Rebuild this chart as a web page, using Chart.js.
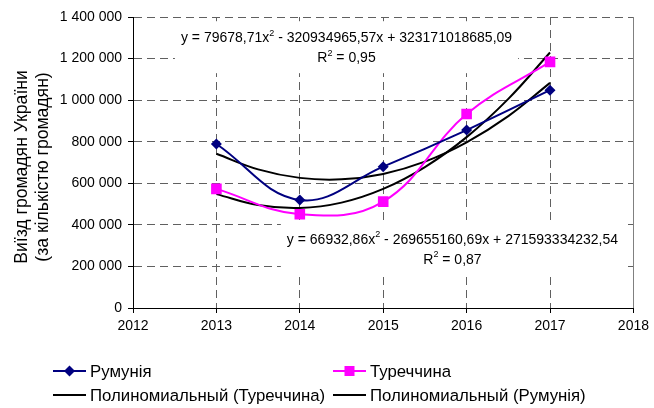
<!DOCTYPE html>
<html lang="uk">
<head>
<meta charset="UTF-8">
<title>Виїзд громадян України</title>
<script src="https://cdn.jsdelivr.net/npm/chart.js"></script>
<style>
  html, body { margin: 0; padding: 0; background: #fff; }
  #wrap { width: 654px; height: 408px; }
</style>
</head>
<body>
<div id="wrap"><canvas id="chart" width="654" height="408"></canvas></div>
<script>
  // data
  const years = [2013, 2014, 2015, 2016, 2017];
  const romania = [789000, 520000, 680000, 856000, 1048000];
  const turkey = [573000, 451000, 512000, 933000, 1184000];

  // trend curves, read every half year
  const trendYears = [2013, 2013.5, 2014, 2014.5, 2015, 2015.5, 2016, 2016.5, 2017];
  const turkeyTrend = [548000, 495000, 481000, 507000, 573000, 678000, 822000, 1006000, 1229000];
  const romaniaTrend = [742000, 667000, 626000, 619000, 645000, 704000, 797000, 923000, 1083000];

  const xMin = 2012, xMax = 2018;
  const yMax = 1400000, yStep = 200000;

  const seriesNames = ['Румунія', 'Туреччина', 'Полиномиальный (Туреччина)', 'Полиномиальный (Румунія)'];
  const axisTitle = ['Виїзд громадян України', '(за кількістю громадян)'];

  const FONT = '"Liberation Sans", Arial, sans-serif';
  const NAVY = '#000080', PINK = '#FF00FF';

  const pairs = (xs, ys) => xs.map((x, i) => ({ x: x, y: ys[i] }));
  const spaced = v => String(v).replace(/\B(?=(\d{3})+(?!\d))/g, ' ');

  // equation boxes, placed in data units
  const trendLabels = [
    {
      x: 2014.56, y: [1298000, 1202000],
      lines: [
        [{ t: 'y = 79678,71x' }, { t: '2', sup: true }, { t: ' - 320934965,57x + 323171018685,09' }],
        [{ t: 'R' }, { t: '2', sup: true }, { t: ' = 0,95' }]
      ]
    },
    {
      x: 2015.83, y: [328000, 232000],
      lines: [
        [{ t: 'y = 66932,86x' }, { t: '2', sup: true }, { t: ' - 269655160,69x + 271593334232,54' }],
        [{ t: 'R' }, { t: '2', sup: true }, { t: ' = 0,87' }]
      ]
    }
  ];

  function partFont(p) { return (p.sup ? '9px ' : '14px ') + FONT; }

  function richWidth(ctx, parts) {
    let w = 0;
    parts.forEach(p => { ctx.font = partFont(p); w += ctx.measureText(p.t).width; });
    return w;
  }

  function drawRich(ctx, parts, cx, cy) {
    let x = cx - richWidth(ctx, parts) / 2;
    parts.forEach(p => {
      ctx.font = partFont(p);
      ctx.fillText(p.t, x, p.sup ? cy - 5 : cy);
      x += ctx.measureText(p.t).width;
    });
  }

  const equationPlugin = {
    id: 'equations',
    beforeDatasetsDraw(chart) {
      const ctx = chart.ctx, xs = chart.scales.x, ys = chart.scales.y;
      ctx.save();
      ctx.textBaseline = 'middle';
      ctx.textAlign = 'left';
      trendLabels.forEach(lb => {
        const cx = xs.getPixelForValue(lb.x);
        const c1 = ys.getPixelForValue(lb.y[0]);
        const c2 = ys.getPixelForValue(lb.y[1]);
        const w = Math.max(...lb.lines.map(l => richWidth(ctx, l)));
        ctx.fillStyle = '#fff';
        ctx.fillRect(cx - w / 2 - 6, c1 - 17, w + 12, c2 - c1 + 32);
        ctx.fillStyle = '#000';
        drawRich(ctx, lb.lines[0], cx, c1);
        drawRich(ctx, lb.lines[1], cx, c2);
      });
      // right edge of the plot area
      const a = chart.chartArea;
      ctx.strokeStyle = '#808080';
      ctx.lineWidth = 1;
      ctx.beginPath();
      ctx.moveTo(Math.round(a.right) + 0.5, a.top);
      ctx.lineTo(Math.round(a.right) + 0.5, a.bottom);
      ctx.stroke();
      ctx.restore();
    }
  };

  function diamond(ctx, x, y, r) {
    ctx.beginPath();
    ctx.moveTo(x - r, y); ctx.lineTo(x, y - r); ctx.lineTo(x + r, y); ctx.lineTo(x, y + r);
    ctx.closePath();
    ctx.fill();
  }

  const sidePlugin = {
    id: 'sideTexts',
    afterDraw(chart) {
      const ctx = chart.ctx;
      ctx.save();
      ctx.fillStyle = '#000';
      ctx.font = '17.6px ' + FONT;
      ctx.textAlign = 'center';
      ctx.textBaseline = 'alphabetic';
      // y axis title, two lines
      [[27, axisTitle[0]], [48, axisTitle[1]]].forEach(([bx, txt]) => {
        ctx.save();
        ctx.translate(bx, 167);
        ctx.rotate(-Math.PI / 2);
        ctx.fillText(txt, 0, 0);
        ctx.restore();
      });

      // legend
      const rows = [371, 395];
      const cols = [53, 333];
      const items = [
        { col: 0, row: 0, color: NAVY, mark: 'diamond', name: seriesNames[0] },
        { col: 1, row: 0, color: PINK, mark: 'square', name: seriesNames[1] },
        { col: 0, row: 1, color: '#000', mark: null, name: seriesNames[2] },
        { col: 1, row: 1, color: '#000', mark: null, name: seriesNames[3] }
      ];
      ctx.font = '16.8px ' + FONT;
      ctx.textAlign = 'left';
      ctx.textBaseline = 'middle';
      items.forEach(it => {
        const x0 = cols[it.col], y = rows[it.row];
        ctx.strokeStyle = it.color;
        ctx.fillStyle = it.color;
        ctx.lineWidth = 2;
        ctx.beginPath();
        ctx.moveTo(x0, y); ctx.lineTo(x0 + 33, y);
        ctx.stroke();
        if (it.mark === 'diamond') diamond(ctx, x0 + 16.5, y, 5.5);
        if (it.mark === 'square') ctx.fillRect(x0 + 16.5 - 5, y - 5, 10, 10);
        ctx.fillStyle = '#000';
        ctx.fillText(it.name, x0 + 37, y + 1);
      });
      ctx.restore();
    }
  };

  new Chart(document.getElementById('chart'), {
    type: 'line',
    data: {
      datasets: [
        {
          label: seriesNames[0],
          data: pairs(years, romania),
          borderColor: NAVY, backgroundColor: NAVY,
          borderWidth: 2, tension: 0.4,
          pointStyle: 'rectRot', pointRadius: 5.5, pointBorderWidth: 0
        },
        {
          label: seriesNames[1],
          data: pairs(years, turkey),
          borderColor: PINK, backgroundColor: PINK,
          borderWidth: 2, tension: 0.4,
          pointStyle: 'rect', pointRadius: 7.5, pointBorderWidth: 0
        },
        {
          label: seriesNames[2],
          data: pairs(trendYears, turkeyTrend),
          borderColor: '#000', borderWidth: 2, tension: 0.4, pointRadius: 0
        },
        {
          label: seriesNames[3],
          data: pairs(trendYears, romaniaTrend),
          borderColor: '#000', borderWidth: 2, tension: 0.4, pointRadius: 0
        }
      ]
    },
    options: {
      responsive: false,
      animation: false,
      events: [],
      layout: { padding: { top: 17, right: 18, left: 0, bottom: 0 } },
      plugins: { legend: { display: false }, tooltip: { enabled: false } },
      scales: {
        x: {
          type: 'linear', min: xMin, max: xMax,
          afterFit: s => { s.height = 100; },
          ticks: {
            stepSize: 1, padding: 5, color: '#000',
            font: { family: FONT, size: 14 },
            callback: v => String(v)
          },
          grid: { color: '#606060', tickColor: '#000', tickLength: 5 },
          border: { color: '#000', width: 1, dash: [8, 5] }
        },
        y: {
          min: 0, max: yMax,
          afterFit: s => { s.width = 133; },
          ticks: {
            stepSize: yStep, padding: 6, color: '#000',
            font: { family: FONT, size: 14 },
            callback: v => spaced(v)
          },
          grid: { color: '#606060', tickColor: '#000', tickLength: 5 },
          border: { color: '#000', width: 1, dash: [8, 5] }
        }
      }
    },
    plugins: [equationPlugin, sidePlugin]
  });
</script>
</body>
</html>
